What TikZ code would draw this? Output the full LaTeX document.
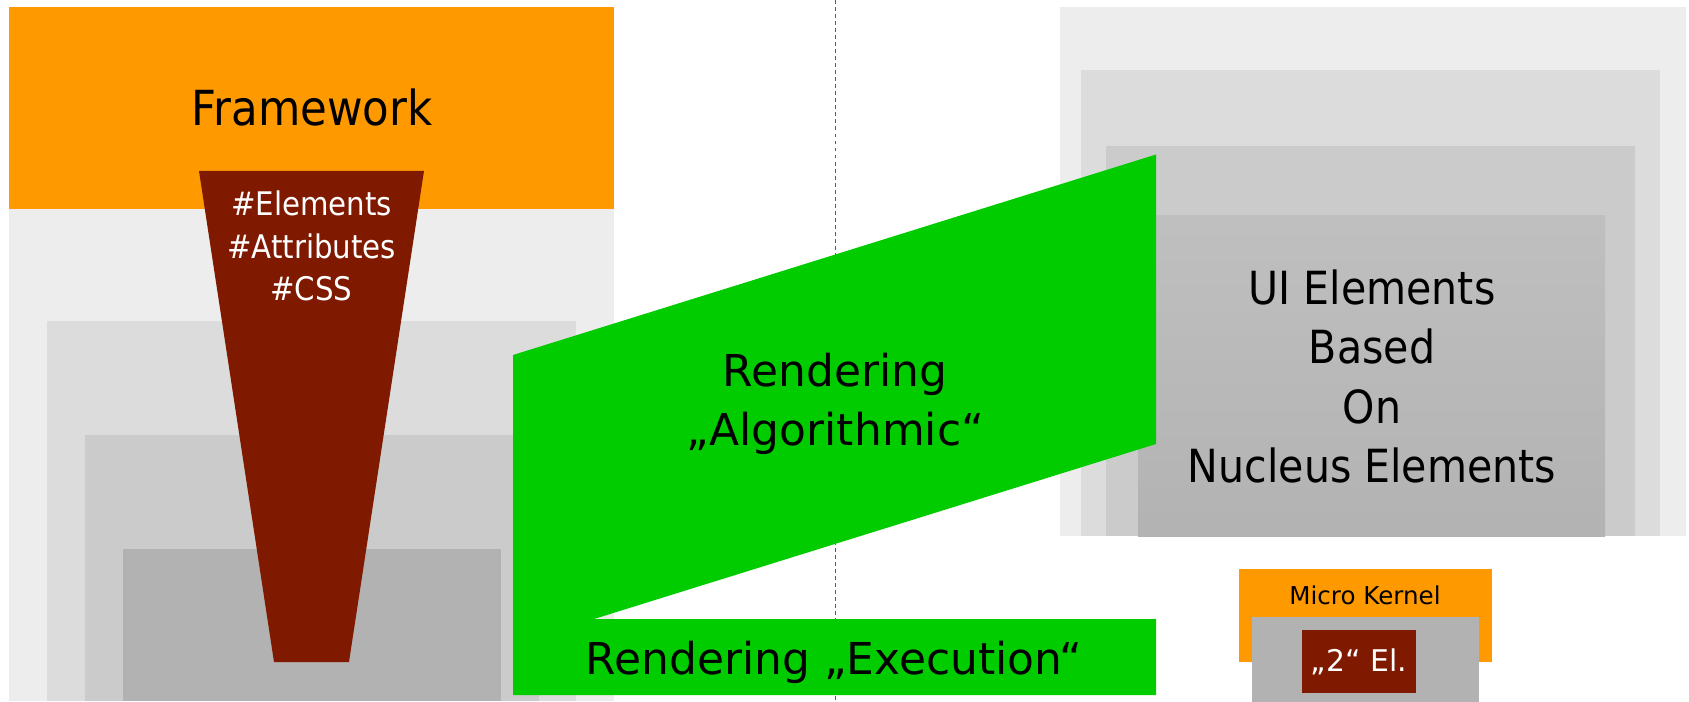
\documentclass[tikz,border=0pt]{standalone}
\usepackage{fontspec}
\setmainfont{DejaVu Sans}
\newfontfamily\bigfont{DejaVu Sans}[FakeStretch=0.9]
\newfontfamily\rendfont{DejaVu Sans}
\definecolor{fworange}{HTML}{FF9900}
\definecolor{kernbrown}{HTML}{7F1A00}
\definecolor{rendgreen}{HTML}{00CC00}
\definecolor{grayA}{HTML}{EDEDED}
\definecolor{grayB}{HTML}{DCDCDC}
\definecolor{grayC}{HTML}{CBCBCB}
\definecolor{grayD}{HTML}{B2B2B2}
\tikzset{
    biglbl/.style={inner sep=0pt, align=center, font=\bigfont\fontsize{26}{33.8}\selectfont},
    rendlbl/.style={inner sep=0pt, align=center, font=\rendfont\fontsize{25}{33.5}\selectfont},
    taglbl/.style={inner sep=0pt, align=center, text=white, font=\bigfont\fontsize{18.5}{24}\selectfont},
    seprule/.style={draw=black!65, line width=0.5pt, dash pattern=on 2.2pt off 1.8pt}
}
\begin{document}
\begin{tikzpicture}[x=0.02cm, y=-0.02cm]
            \useasboundingbox (0,0) rectangle (1689,702);
            % left stack
            \fill[grayA] (9,7) rectangle (614,701);
            \fill[grayB] (47,321) rectangle (576,701);
            \fill[grayC] (85,435) rectangle (539,701);
            \fill[grayD] (123,549) rectangle (501,701);
            \fill[fworange] (9,7) rectangle (614,209);
            \node[biglbl, anchor=base, font=\bigfont\fontsize{27.5}{33.8}\selectfont] (framework) at (312,126) {Framework};
            \fill[kernbrown] (199,171) -- (424,171) -- (349,662) -- (274,662) -- cycle;
            \node[taglbl] (tags) at (311.5,246) {\#Elements\\\#Attributes\\\#CSS};
            % right stack
            \fill[grayA] (1060,7) rectangle (1686,536);
            \fill[grayB] (1081,70) rectangle (1660,536);
            \fill[grayC] (1106,146) rectangle (1635,536);
            \shade[top color=black!25, bottom color=black!30] (1138,216) rectangle (1605,536);
            \node[biglbl] (uielems) at (1372,376.5) {UI Elements\\Based\\On\\Nucleus Elements};
            % separator
            \coordinate (sepTop) at (835,0);
            \coordinate (sepBot) at (835,702);
            \draw[seprule] (sepTop) -- (sepBot);
            % rendering
            \fill[rendgreen] (513,355) -- (1156,154.5) -- (1156,444) -- (594,619)
                -- (1156,619) -- (1156,695) -- (513,695) -- cycle;
            \node[rendlbl] (algo) at (835,403.5) {Rendering\\„Algorithmic“};
            \node[rendlbl, anchor=base] (exec) at (834,674) {Rendering „Execution“};
            % micro kernel
            \fill[fworange] (1239,569) rectangle (1492,662);
            \node[anchor=base, inner sep=0pt, font=\fontsize{14}{16}\selectfont] (kernel) at (1365,604) {Micro Kernel};
            \fill[grayD] (1252,617) rectangle (1479,702);
            \node[fill=kernbrown, text=white, minimum width=113.4*0.02cm, minimum height=62.7*0.02cm,
                inner sep=0pt, font=\fontsize{17}{19}\selectfont] (twoel) at (1359,661.4) {„2“ El.};
\end{tikzpicture}
\end{document}
